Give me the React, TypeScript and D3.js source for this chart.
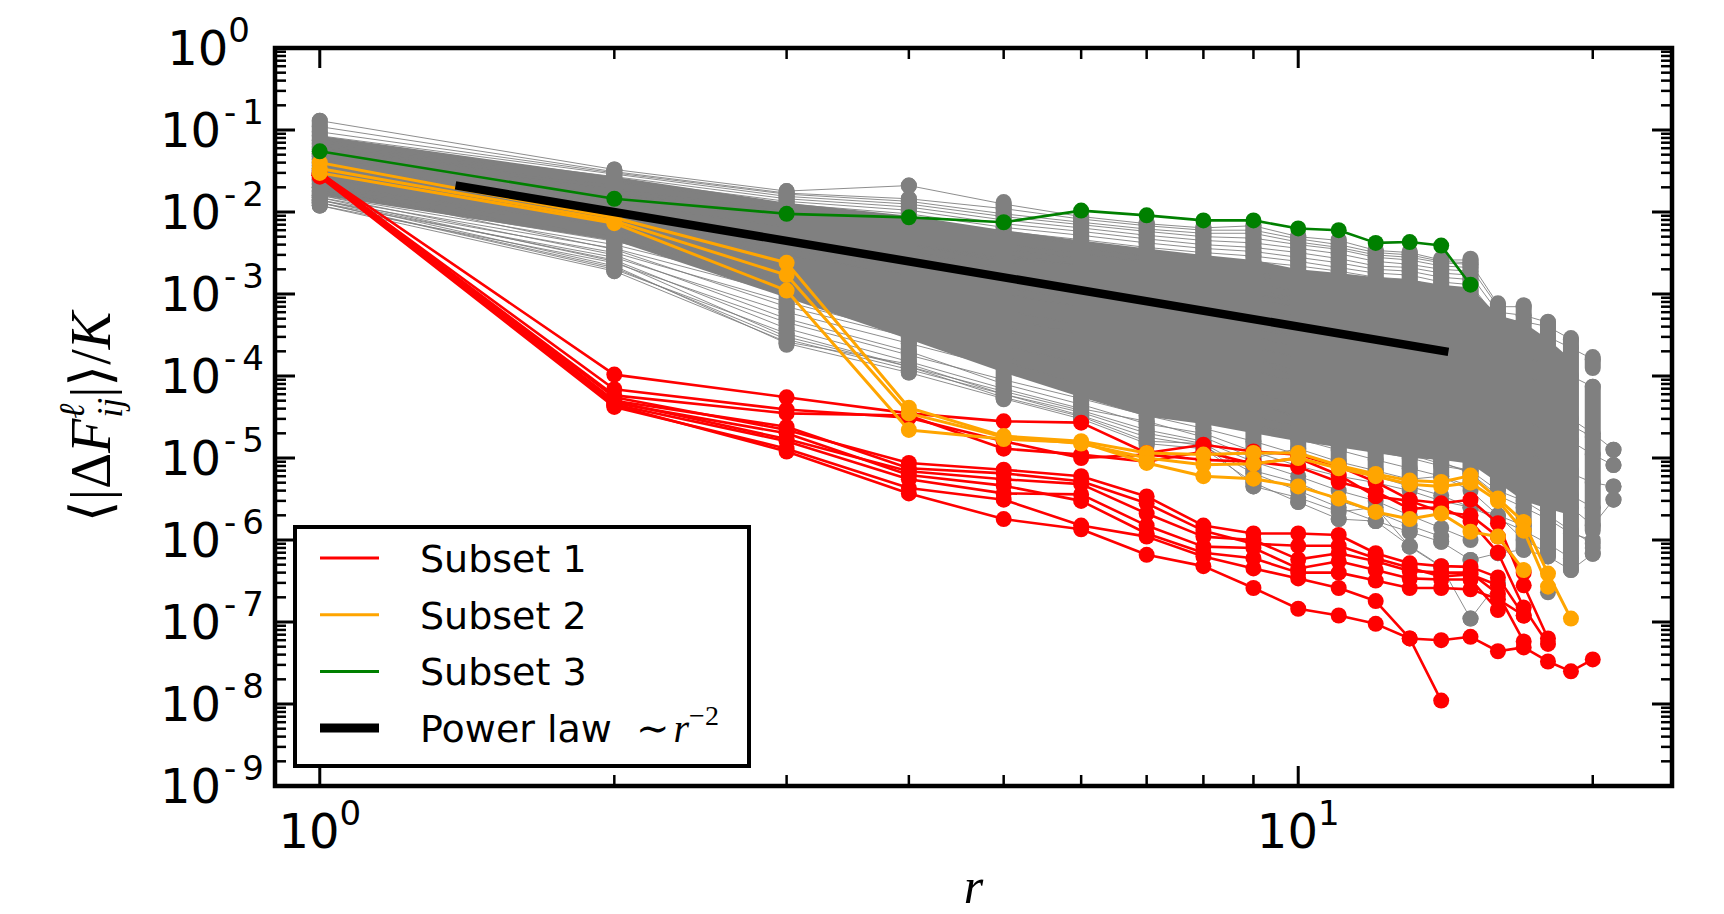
import React from 'react';
import * as d3 from 'd3';

// distance r (x axis)
const rValues = [1, 2, 3, 4, 5, 6, 7, 8, 9, 10, 11, 12, 13, 14, 15, 16, 17, 18, 19, 20, 21];

// Subset 1 (red)
const subset1 = [
  [3.0e-2, 1.04e-4, 5.5e-5, 3.5e-5, 2.8e-5, 2.7e-5, 1.15e-5, 1.45e-5, 1.2e-5, 1.1e-5, 7.9e-6, 5.1e-6, 3.1e-6, 2.8e-6, 3.1e-6, 1.6e-6, 2.8e-7, 6.3e-8],
  [2.9e-2, 6.9e-5, 3.9e-5, 3.1e-5, 1.6e-5, 1.0e-5, 1.1e-5, 9.5e-6, 9.0e-6, 7.8e-6, 5.1e-6, 3.9e-6, 2.4e-6, 2.5e-6, 1.7e-6, 7.0e-7, 1.5e-7, 5.4e-8],
  [2.8e-2, 5.5e-5, 2.2e-5, 8.7e-6, 7.2e-6, 6.0e-6, 3.4e-6, 1.5e-6, 1.2e-6, 1.2e-6, 1.15e-6, 6.9e-7, 5.2e-7, 4.8e-7, 4.7e-7, 3.5e-7, 1.2e-7],
  [2.9e-2, 4.9e-5, 1.7e-5, 6.9e-6, 5.5e-6, 4.8e-6, 2.1e-6, 1.1e-6, 1.0e-6, 5.8e-7, 6.9e-7, 5.5e-7, 4.2e-7, 4.0e-7, 4.0e-7, 2.2e-7, 5.8e-8],
  [2.8e-2, 4.5e-5, 1.6e-5, 5.5e-6, 3.7e-6, 3.6e-6, 1.5e-6, 8.3e-7, 8.0e-7, 4.5e-7, 5.5e-7, 4.3e-7, 3.4e-7, 3.3e-7, 3.3e-7, 1.4e-7],
  [2.7e-2, 4.2e-5, 1.3e-5, 4.3e-6, 3.1e-6, 1.5e-6, 1.1e-6, 6.3e-7, 4.5e-7, 3.4e-7, 2.6e-7, 1.8e-7, 6.3e-8, 1.1e-8],
  [2.8e-2, 4.4e-5, 1.2e-5, 3.7e-6, 1.8e-6, 1.35e-6, 6.6e-7, 4.8e-7, 2.6e-7, 1.45e-7, 1.2e-7, 9.5e-8, 6.3e-8, 6.0e-8, 6.6e-8, 4.4e-8, 4.9e-8, 3.3e-8, 2.5e-8, 3.5e-8],
  [2.9e-2, 5.8e-5, 3.5e-5, 3.3e-5, 1.3e-5, 1.1e-5, 9.0e-6, 1.2e-5, 8.5e-6, 1.0e-5, 6.2e-6, 3.4e-6, 3.0e-6, 2.2e-6, 2.0e-6, 1.1e-6, 4.0e-7],
  [2.8e-2, 4.7e-5, 2.0e-5, 6.2e-6, 4.6e-6, 3.0e-6, 1.2e-6, 7.0e-7, 6.0e-7, 4.0e-7, 4.0e-7, 3.2e-7, 2.6e-7, 2.6e-7, 2.5e-7, 1.9e-7, 1.2e-7],
  [3.1e-2, 5.0e-5, 2.4e-5, 7.5e-6, 6.5e-6, 5.2e-6, 2.8e-6, 1.3e-6, 9.0e-7, 8.5e-7, 8.5e-7, 6.0e-7, 4.6e-7, 3.6e-7, 3.8e-7, 2.8e-7],
];

// Subset 2 (orange)
const subset2 = [
  [4.0e-2, 8.5e-3, 2.4e-3, 4.1e-5, 1.85e-5, 1.6e-5, 1.15e-5, 1.1e-5, 1.15e-5, 1.15e-5, 8.1e-6, 6.4e-6, 5.3e-6, 5.1e-6, 6.1e-6, 3.2e-6, 1.66e-6, 3.9e-7, 1.1e-7],
  [3.4e-2, 7.8e-3, 1.7e-3, 3.5e-5, 1.8e-5, 1.5e-5, 1.0e-5, 8.3e-6, 8.5e-6, 1.0e-5, 7.5e-6, 6.0e-6, 4.8e-6, 4.5e-6, 5.0e-6, 3.0e-6, 1.3e-6, 2.7e-7],
  [3.0e-2, 7.3e-3, 1.1e-3, 2.2e-5, 1.7e-5, 1.55e-5, 8.7e-6, 6.0e-6, 5.6e-6, 4.5e-6, 3.2e-6, 2.2e-6, 1.8e-6, 2.1e-6, 1.26e-6, 1.1e-6, 4.3e-7],
];

// Subset 3 (green)
const subset3 = [0.055, 0.0145, 0.0095, 0.0086, 0.0075, 0.0104, 0.0091, 0.0079, 0.0079, 0.0063, 0.006, 0.0042, 0.0043, 0.0039, 0.0013];

// the remaining links (grey)
const grayLines = [
  [0.13, 0.033, 0.018, 0.021, 0.0125, 0.0088, 0.0072, 0.0064, 0.0068, 0.005, 0.0045, 0.0034, 0.0032, 0.0026, 0.0026],
  [0.11, 0.031, 0.017, 0.0145, 0.011, 0.0082, 0.0068, 0.006, 0.006, 0.0047, 0.004, 0.0032, 0.003, 0.0025, 0.0024, 7.5e-4],
  [0.095, 0.03, 0.0165, 0.0135, 0.0095, 0.0075, 0.0062, 0.0055, 0.0055, 0.0043, 0.0037, 0.003, 0.0028, 0.0024, 0.0023],
  [0.085, 0.029, 0.0155, 0.0125, 0.0088, 0.007, 0.0058, 0.005, 0.0048, 0.004, 0.0035, 0.0028, 0.0026, 0.0022, 0.0021, 7.0e-4, 7.0e-4],
  [0.075, 0.027, 0.0145, 0.0115, 0.008, 0.0064, 0.0052, 0.0045, 0.0042, 0.0036, 0.0031, 0.0025, 0.0023, 0.002, 0.0019],
  [0.068, 0.025, 0.0135, 0.0105, 0.0072, 0.0058, 0.0047, 0.004, 0.0037, 0.0032, 0.0027, 0.0022, 0.0021, 0.0018, 0.0017, 6.0e-4, 5.5e-4, 4.5e-4],
  [0.062, 0.023, 0.0125, 0.0095, 0.0065, 0.0052, 0.0042, 0.0036, 0.0033, 0.0028, 0.0024, 0.002, 0.0019, 0.0016, 0.0015],
  [0.058, 0.021, 0.0115, 0.0085, 0.0058, 0.0046, 0.0037, 0.0032, 0.0029, 0.0025, 0.0021, 0.0018, 0.0017, 0.0014, 0.0013, 5.0e-4, 4.6e-4, 4.0e-4, 2.8e-4],
  [0.052, 0.019, 0.0105, 0.0076, 0.0052, 0.0041, 0.0033, 0.0028, 0.0025, 0.0022, 0.0019, 0.0016, 0.0015, 0.0012, 0.0011],
  [0.048, 0.017, 0.0095, 0.0068, 0.0046, 0.0036, 0.0029, 0.0025, 0.0022, 0.0019, 0.0016, 0.0014, 0.0013, 0.0011, 0.001, 4.0e-4, 3.5e-4, 3.0e-4, 2.2e-4, 1.6e-4],
  [0.044, 0.016, 0.0085, 0.006, 0.004, 0.0031, 0.0025, 0.0021, 0.0018, 0.0016, 0.0014, 0.0012, 0.0011, 9.0e-4, 8.5e-4],
  [0.04, 0.0145, 0.0075, 0.0052, 0.0035, 0.0027, 0.0021, 0.0018, 0.0016, 0.0014, 0.0012, 0.001, 9.0e-4, 7.5e-4, 7.0e-4, 3.0e-4, 2.6e-4],
  [0.037, 0.013, 0.0066, 0.0045, 0.003, 0.0023, 0.0018, 0.0015, 0.0013, 0.0011, 9.5e-4, 8.0e-4, 7.0e-4, 6.0e-4, 5.5e-4],
  [0.034, 0.012, 0.0058, 0.0039, 0.0025, 0.0019, 0.0015, 0.0012, 0.0011, 9.0e-4, 7.5e-4, 6.3e-4, 5.5e-4, 4.6e-4, 4.2e-4, 2.0e-4, 1.7e-4, 1.4e-4, 1.0e-4, 7.4e-5],
  [0.032, 0.011, 0.0052, 0.0033, 0.0021, 0.0016, 0.0012, 0.001, 8.5e-4, 7.0e-4, 5.8e-4, 4.8e-4, 4.2e-4, 3.5e-4, 3.2e-4],
  [0.03, 0.01, 0.0046, 0.0028, 0.0018, 0.0013, 9.5e-4, 7.8e-4, 6.5e-4, 5.3e-4, 4.4e-4, 3.6e-4, 3.1e-4, 2.6e-4, 2.4e-4, 1.2e-4, 1.0e-4, 8.0e-5],
  [0.028, 0.009, 0.004, 0.0024, 0.0015, 0.0011, 7.8e-4, 6.2e-4, 5.0e-4, 4.0e-4, 3.3e-4, 2.7e-4, 2.3e-4, 1.9e-4, 1.7e-4],
  [0.026, 0.0082, 0.0035, 0.002, 0.0012, 8.5e-4, 6.2e-4, 4.8e-4, 3.8e-4, 3.0e-4, 2.4e-4, 2.0e-4, 1.7e-4, 1.4e-4, 1.2e-4, 6.5e-5, 5.0e-5, 4.0e-5, 3.0e-5, 2.0e-5, 1.26e-5],
  [0.024, 0.0074, 0.003, 0.0017, 0.001, 7.0e-4, 5.0e-4, 3.8e-4, 3.0e-4, 2.3e-4, 1.8e-4, 1.5e-4, 1.2e-4, 1.0e-4, 8.5e-5],
  [0.022, 0.0066, 0.0026, 0.0014, 8.0e-4, 5.5e-4, 3.9e-4, 2.9e-4, 2.2e-4, 1.7e-4, 1.3e-4, 1.05e-4, 8.5e-5, 7.0e-5, 6.0e-5, 3.5e-5, 2.8e-5, 2.2e-5, 1.6e-5, 1.1e-5, 8.2e-6],
  [0.02, 0.0058, 0.0022, 0.0011, 6.3e-4, 4.2e-4, 3.0e-4, 2.2e-4, 1.6e-4, 1.2e-4, 9.0e-5, 7.0e-5, 5.8e-5, 4.8e-5, 4.0e-5],
  [0.018, 0.005, 0.0018, 9.0e-4, 5.0e-4, 3.3e-4, 2.3e-4, 1.6e-4, 1.15e-4, 8.5e-5, 6.5e-5, 5.0e-5, 4.0e-5, 3.2e-5, 2.7e-5, 1.5e-5, 1.2e-5, 9.0e-6, 6.5e-6, 5.0e-6, 4.5e-6],
  [0.017, 0.0044, 0.0015, 7.0e-4, 3.9e-4, 2.5e-4, 1.7e-4, 1.2e-4, 8.5e-5, 6.2e-5, 4.7e-5, 3.6e-5, 2.9e-5, 2.3e-5, 1.9e-5],
  [0.016, 0.004, 0.0012, 5.5e-4, 3.0e-4, 1.9e-4, 1.3e-4, 9.0e-5, 6.3e-5, 4.5e-5, 3.4e-5, 2.6e-5, 2.1e-5, 1.7e-5, 1.4e-5, 8.0e-6, 6.0e-6, 4.0e-6, 2.5e-6, 1.5e-6, 3.1e-6],
  [0.015, 0.0036, 0.001, 4.3e-4, 2.3e-4, 1.45e-4, 9.5e-5, 6.5e-5, 4.6e-5, 3.3e-5, 2.5e-5, 1.9e-5, 1.5e-5, 1.2e-5, 9.5e-6],
  [0.014, 0.0032, 8.0e-4, 3.3e-4, 1.7e-4, 1.05e-4, 6.8e-5, 4.7e-5, 3.3e-5, 2.4e-5, 1.8e-5, 1.4e-5, 1.1e-5, 8.5e-6, 7.0e-6, 4.0e-6, 3.0e-6, 2.0e-6, 1.3e-6, 9.0e-7],
  [0.013, 0.0028, 6.0e-4, 2.5e-4, 1.25e-4, 7.5e-5, 4.8e-5, 3.3e-5, 2.3e-5, 1.7e-5, 1.25e-5, 9.5e-6, 7.5e-6, 6.0e-6, 4.5e-6],
  [0.012, 0.0024, 4.5e-4, 1.8e-4, 9.0e-5, 5.3e-5, 3.3e-5, 2.3e-5, 1.6e-5, 1.1e-5, 8.0e-6, 6.0e-6, 4.5e-6, 3.5e-6, 2.5e-6, 1.8e-6, 1.3e-6, 9.0e-7, 6.0e-7],
  [0.013, 0.002, 3.3e-4, 1.3e-4, 6.5e-5, 3.8e-5, 2.2e-5, 1.6e-5, 9.0e-6, 6.0e-6, 4.0e-6, 3.0e-6, 2.0e-6, 1.4e-6, 1.0e-6],
  [0.014, 0.0022, 2.5e-4, 1.1e-4, 5.3e-5, 3.0e-5, 1.5e-5, 1.3e-5, 5.0e-6, 2.9e-6, 1.8e-6, 1.7e-6, 8.5e-7, 4.8e-7, 1.1e-7, 3.0e-7],
  [0.013, 0.0021, 2.8e-4, 1.2e-4, 6.0e-5, 3.3e-5, 1.8e-5, 1.4e-5, 6.5e-6, 4.0e-6, 2.5e-6, 1.7e-6, 1.26e-6, 9.5e-7, 5.7e-7, 6.9e-7, 7.6e-7, 6.3e-7, 4.3e-7, 6.8e-7],
  [0.015, 0.0025, 3.0e-4, 1.3e-4, 5.5e-5, 3.2e-5, 1.6e-5, 1.5e-5, 4.5e-6, 3.3e-6, 2.2e-6, 2.5e-6, 8.3e-7, 4.7e-7],
  [0.05, 0.012, 0.004, 0.002, 0.001, 6.0e-4, 3.5e-4, 2.5e-4, 1.5e-4, 1.0e-4, 7.0e-5, 5.0e-5, 3.5e-5, 2.5e-5, 1.8e-5, 1.0e-5, 7.0e-6, 5.0e-6, 3.5e-6, 2.5e-6],
  [0.03, 0.016, 0.008, 0.005, 0.003, 0.0018, 0.0011, 7.0e-4, 4.5e-4, 3.0e-4, 2.0e-4, 1.4e-4, 1.0e-4, 7.0e-5, 5.0e-5, 2.0e-5, 1.5e-5, 1.0e-5, 7.0e-6],
  [0.025, 0.0095, 0.006, 0.004, 0.0028, 0.0022, 0.0017, 0.0014, 0.001, 8.0e-4, 6.0e-4, 4.5e-4, 3.5e-4, 2.6e-4, 2.0e-4, 6.0e-5, 4.5e-5, 3.5e-5, 2.5e-5, 1.8e-5],
  [0.016, 0.003, 5.0e-4, 2.0e-4, 8.0e-5, 4.5e-5, 2.6e-5, 2.0e-5, 1.2e-5, 8.0e-6, 6.0e-6, 5.0e-6, 4.0e-6, 3.0e-6, 2.5e-6, 2.0e-6, 1.5e-6],
  [0.02, 0.0035, 7.0e-4, 3.0e-4, 1.5e-4, 8.0e-5, 5.0e-5, 3.5e-5, 2.5e-5, 2.0e-5, 1.5e-5, 1.2e-5, 1.0e-5, 8.0e-6, 7.0e-6],
  [0.014, 0.0026, 3.8e-4, 1.5e-4, 7.0e-5, 4.0e-5, 2.8e-5, 1.8e-5, 1.0e-5, 1.3e-5, 9.0e-6, 7.0e-6, 5.5e-6, 6.0e-6, 4.0e-6, 2.0e-6, 1.0e-6, 7.0e-7],
  [0.012, 0.0019, 2.6e-4, 1.4e-4, 6.0e-5, 3.6e-5, 2.0e-5, 1.5e-5, 7.0e-6, 5.0e-6, 3.0e-6, 2.2e-6, 1.5e-6, 1.1e-6],
  [0.018, 0.0045, 0.0014, 6.5e-4, 3.5e-4, 2.0e-4, 1.2e-4, 7.5e-5, 5.0e-5, 3.0e-5, 2.0e-5, 1.6e-5, 1.2e-5, 9.0e-6, 6.5e-6, 3.5e-6, 2.5e-6, 1.8e-6, 1.2e-6, 1.0e-6],
];

// dense piles of grey markers: [r, top, bottom]
const grayStacks = [
  [1, 0.13, 0.012], [2, 0.033, 0.0019], [3, 0.018, 2.4e-4], [4, 0.0145, 1.1e-4],
  [5, 0.0132, 5.2e-5], [6, 0.0091, 3.0e-5], [7, 0.0075, 1.4e-5], [8, 0.0066, 1.3e-5],
  [9, 0.0069, 4.5e-6], [10, 0.0052, 1.1e-5], [11, 0.0046, 8.7e-6], [12, 0.0035, 6.5e-6],
  [13, 0.0033, 4.5e-6], [14, 0.0027, 5.9e-6], [15, 0.0027, 5.0e-6], [16, 7.7e-4, 4.1e-6],
  [17, 7.3e-4, 7.6e-7], [18, 4.6e-4, 6.3e-7], [19, 2.9e-4, 4.3e-7], [20, 1.7e-4, 1.25e-4],
  [20, 7.4e-5, 1.3e-6],
];

// isolated grey markers: [r, value]
const grayDots = [
  [4, 0.021], [10, 2.9e-6], [11, 1.8e-6], [12, 1.7e-6], [13, 1.26e-6], [13, 8.3e-7],
  [14, 9.5e-7], [14, 4.7e-7], [15, 5.7e-7], [15, 1.1e-7], [16, 6.9e-7], [18, 2.3e-7],
  [20, 8.0e-7], [20, 6.8e-7], [21, 1.26e-5], [21, 8.2e-6], [21, 4.5e-6], [21, 3.1e-6],
];

// where the grey links overlap into a solid band
const grayCoreHi = [0.085, 0.027, 0.013, 0.009, 0.006, 0.0045, 0.0036, 0.003, 0.0026, 0.002, 0.0018, 0.0016, 0.0015, 0.0013, 0.0012, 5.5e-4, 4.5e-4, 2.8e-4, 1.6e-4];
const grayCoreLo = [0.016, 0.0045, 9e-4, 2.8e-4, 1.1e-4, 5.5e-5, 3.2e-5, 2.6e-5, 2.0e-5, 1.6e-5, 1.35e-5, 1.15e-5, 1.0e-5, 9.5e-6, 8.5e-6, 5.0e-6, 3.0e-6, 2.4e-6, 2.0e-6];

// power law ~ r^-2 guide
const powerLaw = [[1.39, 0.0207], [14.1, 2.01e-4]];

const yExponents = [0, -1, -2, -3, -4, -5, -6, -7, -8, -9];
const xExponents = [0, 1];

const legendItems = [
  { label: 'Subset 1', color: '#ff0000', width: 3 },
  { label: 'Subset 2', color: '#ffa500', width: 3 },
  { label: 'Subset 3', color: '#008000', width: 3 },
  { label: 'Power law', color: '#000000', width: 9 },
];

const GRAY = '#808080';

export default function App() {
  const width = 1724;
  const height = 914;
  const m = { left: 275, right: 1672, top: 48, bottom: 786 };

  const x = d3.scaleLog().domain([0.9, 24.1]).range([m.left, m.right]);
  const y = d3.scaleLog().domain([1e-9, 1]).range([m.bottom, m.top]);

  const line = d3.line<number>().x((_, i) => x(rValues[i])).y((v) => y(v));
  const core = d3.area<number>()
    .x((_, i) => x(rValues[i]))
    .y0((_, i) => y(grayCoreLo[i]))
    .y1((v) => y(v));
  const plLine = d3.line<number[]>().x((d) => x(d[0])).y((d) => y(d[1]));

  const isMajor = (v: number) => Math.abs(Math.log10(v) - Math.round(Math.log10(v))) < 1e-9;
  const xTicks = x.ticks().filter((v) => x(v) > m.left + 2 && x(v) < m.right - 2);
  const yTicks = y.ticks().filter((v) => y(v) > m.top + 2 && y(v) < m.bottom - 2);

  const series = (data: number[][], color: string, lw: number, key: string) =>
    data.map((s, k) => (
      <g key={key + k}>
        <path d={line(s) || ''} fill="none" stroke={color} strokeWidth={lw} strokeLinejoin="round" />
        {s.map((v, i) => (
          <circle key={i} cx={x(rValues[i])} cy={y(v)} r={8} fill={color} />
        ))}
      </g>
    ));

  const legX = 295, legY = 527, legW = 454, legH = 239;

  // superscript of a tick label: short dash, then the digits
  const expSpans = (e: number) =>
    e < 0
      ? [<tspan key="a" dy={-23} dx={3} fontSize={34}>-</tspan>, <tspan key="b" dx={6} fontSize={34}>{String(-e)}</tspan>]
      : [<tspan key="a" dy={-23} fontSize={34}>{String(e)}</tspan>];

  return (
    <svg width={width} height={height} style={{ position: 'absolute', left: 0, top: 0, background: '#fff' }}
      fontFamily="'DejaVu Sans', sans-serif">
      <rect x={0} y={0} width={width} height={height} fill="#fff" />

      {/* grey background links */}
      <path d={core(grayCoreHi) || ''} fill={GRAY} />
      {grayLines.map((s, k) => (
        <path key={'gl' + k} d={line(s) || ''} fill="none" stroke={GRAY} strokeWidth={0.9} />
      ))}
      {grayStacks.map((d, k) => (
        <line key={'gs' + k} x1={x(d[0])} x2={x(d[0])} y1={y(d[1])} y2={y(d[2])}
          stroke={GRAY} strokeWidth={16} strokeLinecap="round" />
      ))}
      {grayDots.map((d, k) => (
        <circle key={'gd' + k} cx={x(d[0])} cy={y(d[1])} r={8} fill={GRAY} />
      ))}
      {grayLines.map((s, k) => (
        <g key={'gm' + k}>
          {s.map((v, i) => <circle key={i} cx={x(rValues[i])} cy={y(v)} r={8} fill={GRAY} />)}
        </g>
      ))}

      {/* subsets */}
      {series(subset1, '#ff0000', 2.6, 's1')}
      {series(subset2, '#ffa500', 3, 's2')}
      {series([subset3], '#008000', 2.6, 's3')}

      <path d={plLine(powerLaw) || ''} stroke="#000" strokeWidth={8.5} fill="none" strokeLinecap="square" />

      {/* ticks */}
      {xTicks.map((v, i) => {
        const len = isMajor(v) ? 20 : 11;
        const w = isMajor(v) ? 3 : 2.5;
        return (
          <g key={'xt' + i} stroke="#000" strokeWidth={w}>
            <line x1={x(v)} x2={x(v)} y1={m.bottom} y2={m.bottom - len} />
            <line x1={x(v)} x2={x(v)} y1={m.top} y2={m.top + len} />
          </g>
        );
      })}
      {yTicks.map((v, i) => {
        const len = isMajor(v) ? 20 : 11;
        const w = isMajor(v) ? 3 : 2.5;
        return (
          <g key={'yt' + i} stroke="#000" strokeWidth={w}>
            <line x1={m.left} x2={m.left + len} y1={y(v)} y2={y(v)} />
            <line x1={m.right} x2={m.right - len} y1={y(v)} y2={y(v)} />
          </g>
        );
      })}
      <rect x={m.left} y={m.top} width={m.right - m.left} height={m.bottom - m.top}
        fill="none" stroke="#000" strokeWidth={4.5} />

      {/* tick labels */}
      {yExponents.map((e) => (
        <text key={'yl' + e} x={e === 0 ? 250 : 264} y={y(Math.pow(10, e)) + 17} textAnchor="end" fontSize={48}>
          10{expSpans(e)}
        </text>
      ))}
      {xExponents.map((e) => (
        <text key={'xl' + e} x={x(Math.pow(10, e))} y={848} textAnchor="middle" fontSize={48}>
          10{expSpans(e)}
        </text>
      ))}

      {/* axis labels */}
      <text transform="translate(110,417) rotate(-90)" textAnchor="middle" fontSize={56}
        fontFamily="'Liberation Serif', 'DejaVu Serif', serif">
        ⟨|Δ<tspan fontStyle="italic">F</tspan>
        <tspan fontStyle="italic" fontSize={36} dy={-26}>ℓ</tspan>
        <tspan fontStyle="italic" fontSize={36} dx={-14} dy={38}>ij</tspan>
        <tspan dy={-12}>|⟩/</tspan>
        <tspan fontStyle="italic">K</tspan>
      </text>
      <text x={(m.left + m.right) / 2} y={903} textAnchor="middle" fontSize={50} fontStyle="italic"
        fontFamily="'Liberation Serif', 'DejaVu Serif', serif">r</text>

      {/* legend */}
      <rect x={legX} y={legY} width={legW} height={legH} fill="#fff" stroke="#000" strokeWidth={4} />
      {legendItems.map((it, i) => {
        const base = 572 + i * 56.7;
        return (
          <g key={'lg' + i}>
            <line x1={320} x2={379} y1={base - 14} y2={base - 14} stroke={it.color} strokeWidth={it.width} />
            <text x={420} y={base} fontSize={38}>{it.label}</text>
          </g>
        );
      })}
      <text x={636} y={742} fontSize={40} fontFamily="'Liberation Serif', 'DejaVu Serif', serif">
        ∼<tspan fontStyle="italic" dx={4}>r</tspan>
        <tspan dy={-17} fontSize={28}>−2</tspan>
      </text>
    </svg>
  );
}
